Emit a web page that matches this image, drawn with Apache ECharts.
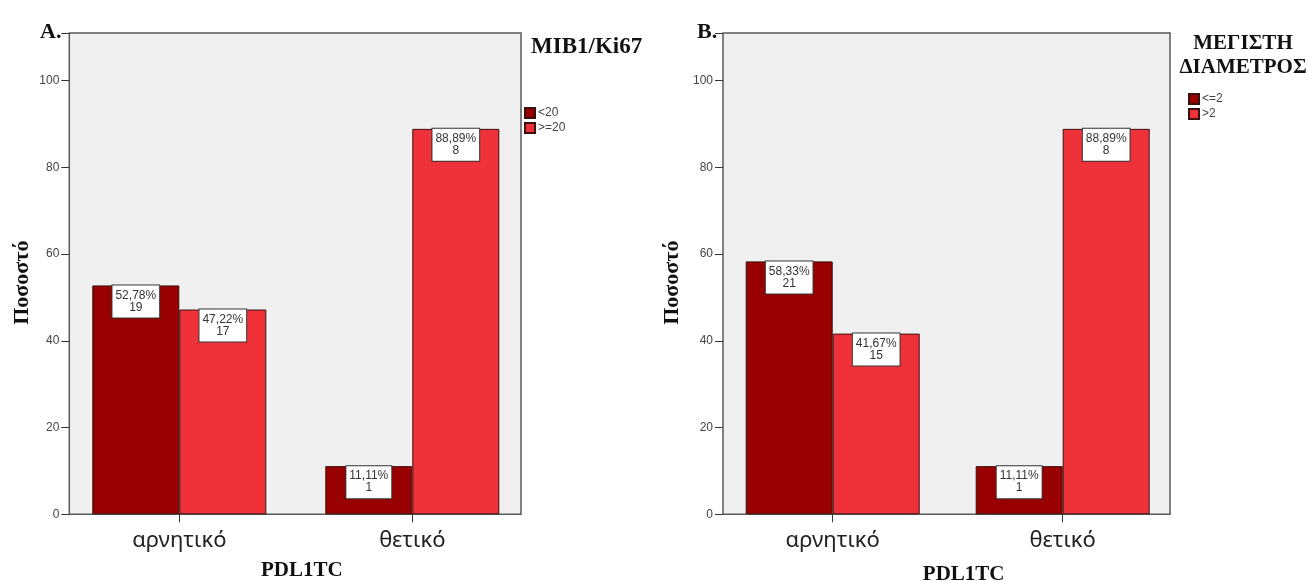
<!doctype html>
<html>
<head>
  <meta charset="utf-8">
  <script src="https://cdn.jsdelivr.net/npm/echarts@6/dist/echarts.min.js"></script>
</head>
<body>
  <style>
    html, body { width: 100%; height: 100%; margin: 0; background: #fff; }
    #main { width: 1307px; height: 581px; }
  </style>
  <div id="main"></div>
  <script>
    // categories and values
    var categories = ['αρνητικό', 'θετικό'];
    var groupsA = ['<20', '>=20'];
    var pctA_low = [52.78, 11.11];
    var pctA_high = [47.22, 88.89];
    var nA_low = [19, 1];
    var nA_high = [17, 8];
    var groupsB = ['<=2', '>2'];
    var pctB_low = [58.33, 11.11];
    var pctB_high = [41.67, 88.89];
    var nB_low = [21, 1];
    var nB_high = [15, 8];
    var yTicks = { min: 0, max: 111, interval: 20 };

    var darkRed = '#990000', lightRed = '#ef323a';
    var serif = '"Liberation Serif", "Times New Roman", serif';
    var sans = '"Liberation Sans", Arial, sans-serif';

    // plot frames (the grey boxes); the grids are a little wider so the
    // categories sit where SPSS puts them
    var frames = [
      { x: 69.3, y: 33, w: 451.7, h: 481.3 },
      { x: 723, y: 33, w: 447, h: 481.3 }
    ];

    function labelFor(counts) {
      return {
        show: true,
        position: 'insideTop',
        distance: 0,
        formatter: function (p) {
          return p.value.toFixed(2).replace('.', ',') + '%\n' + counts[p.dataIndex];
        },
        backgroundColor: '#fff',
        borderColor: '#333',
        borderWidth: 1,
        padding: [4, 3, 4, 3],
        lineHeight: 12,
        fontSize: 12,
        color: '#333',
        fontFamily: sans,
        align: 'center'
      };
    }

    function barSeries(name, data, counts, color, idx) {
      return {
        type: 'bar',
        name: name,
        xAxisIndex: idx,
        yAxisIndex: idx,
        data: data,
        barGap: '0%',
        barWidth: 87,
        itemStyle: { color: color, borderColor: '#3a1010', borderWidth: 1 },
        label: labelFor(counts),
        animation: false
      };
    }

    function xAx(idx, gap, shift) {
      return {
        type: 'category',
        gridIndex: idx,
        data: categories,
        name: 'PDL1TC',
        nameLocation: 'middle',
        nameGap: gap,
        nameTextStyle: { fontFamily: serif, fontWeight: 'bold', fontSize: 21, color: '#111', padding: [0, 0, 0, shift] },
        axisLine: { show: false },
        axisTick: { show: true, alignWithLabel: true, length: 8, lineStyle: { color: '#333' } },
        axisLabel: { margin: 15, fontSize: 22, fontFamily: '"Noto Sans", sans-serif', color: '#222' }
      };
    }

    function yAx(idx, gap, off) {
      return {
        type: 'value',
        gridIndex: idx,
        offset: off,
        min: yTicks.min,
        max: yTicks.max,
        interval: yTicks.interval,
        name: 'Ποσοστό',
        nameLocation: 'middle',
        nameRotate: 90,
        nameGap: gap,
        nameTextStyle: { fontFamily: serif, fontWeight: 'bold', fontSize: 22, color: '#111', padding: [0, 18, 0, 0] },
        axisLine: { show: false },
        axisTick: { show: true, length: 8, lineStyle: { color: '#333' } },
        axisLabel: {
          margin: 10, fontSize: 12, fontFamily: sans, color: '#444',
          formatter: function (v) { return v > 100 ? '' : v; }
        },
        splitLine: { show: false }
      };
    }

    var chart = echarts.init(document.getElementById('main'));
    var option = {
      graphic: frames.map(function (f) {
        return {
          type: 'rect', z: 0, silent: true,
          shape: { x: f.x, y: f.y, width: f.w, height: f.h },
          style: { fill: '#f0f0f0', stroke: '#5a5a5a', lineWidth: 1.5 }
        };
      }),
      title: [
        { text: 'A.', left: 35, top: 16, textStyle: { fontFamily: serif, fontWeight: 'bold', fontSize: 22, color: '#111' } },
        { text: 'B.', left: 692, top: 16, textStyle: { fontFamily: serif, fontWeight: 'bold', fontSize: 22, color: '#111' } },
        { text: 'MIB1/Ki67', left: 526, top: 31, textStyle: { fontFamily: serif, fontWeight: 'bold', fontSize: 23, color: '#111' } },
        {
          text: 'ΜΕΓΙΣΤΗ\nΔΙΑΜΕΤΡΟΣ', left: 1238, top: 27, textAlign: 'center',
          textStyle: { fontFamily: serif, fontWeight: 'bold', fontSize: 21, lineHeight: 23.5, color: '#111', align: 'center' }
        }
      ],
      legend: [
        {
          data: groupsA, left: 524, top: 107, orient: 'vertical', padding: 0,
          itemWidth: 10, itemHeight: 10, itemGap: 3, icon: 'rect',
          textStyle: { fontSize: 12, fontFamily: sans, color: '#444', padding: [0, 0, 0, -2] }
        },
        {
          data: groupsB, left: 1188, top: 93, orient: 'vertical', padding: 0,
          itemWidth: 10, itemHeight: 10, itemGap: 3, icon: 'rect',
          textStyle: { fontSize: 12, fontFamily: sans, color: '#444', padding: [0, 0, 0, -2] }
        }
      ],
      grid: [
        { left: 62.8, top: 33, width: 466, height: 481.3, outerBoundsMode: 'none' },
        { left: 717.7, top: 33, width: 460, height: 481.3, outerBoundsMode: 'none' }
      ],
      xAxis: [xAx(0, 46, 12), xAx(1, 50, 32)],
      yAxis: [yAx(0, 36, -6.5), yAx(1, 40, -5.3)],
      series: [
        barSeries(groupsA[0], pctA_low, nA_low, darkRed, 0),
        barSeries(groupsA[1], pctA_high, nA_high, lightRed, 0),
        barSeries(groupsB[0], pctB_low, nB_low, darkRed, 1),
        barSeries(groupsB[1], pctB_high, nB_high, lightRed, 1)
      ]
    };
    chart.setOption(option);
  </script>
</body>
</html>
